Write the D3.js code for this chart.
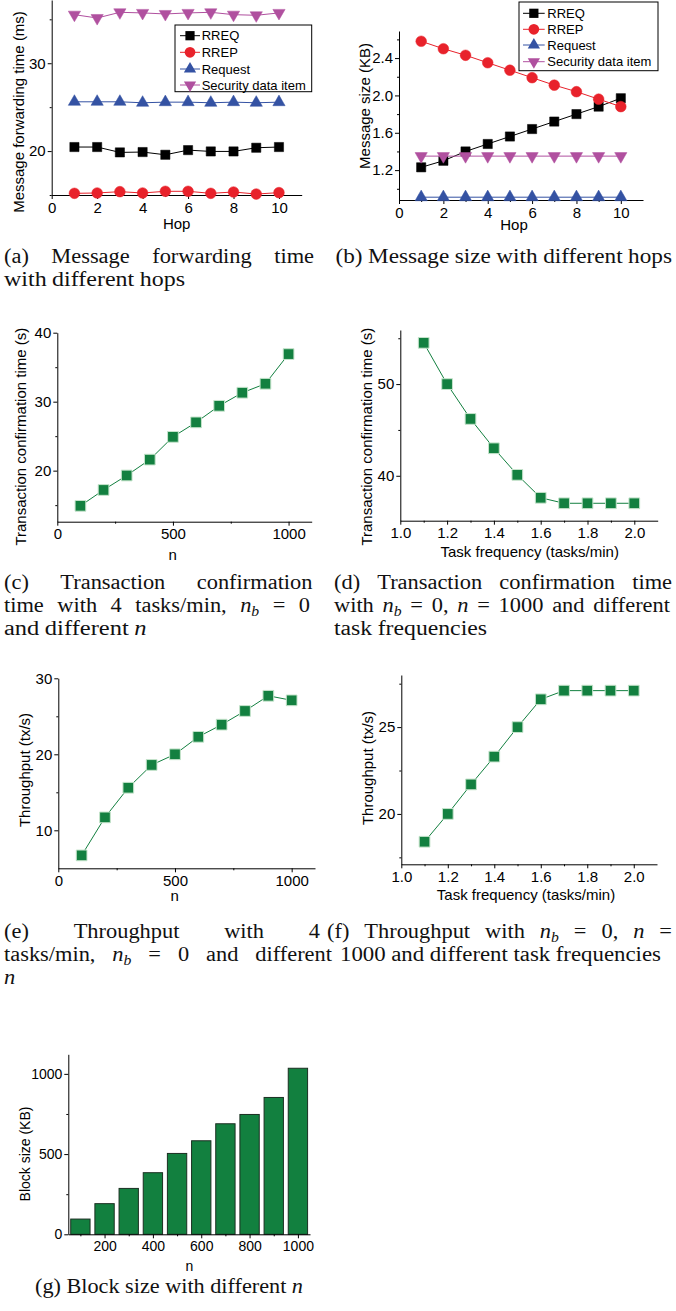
<!DOCTYPE html>
<html>
<head>
<meta charset="utf-8">
<script src="https://cdn.jsdelivr.net/npm/d3@7"></script>
<style>
  body { margin: 0; background: #fff; }
  svg { display: block; }
  .axis text { font-family: "Liberation Sans", Arial, sans-serif; font-size: 15px; fill: #000; }
  .axis path, .axis line { stroke: #000; stroke-width: 1; }
  .title { font-family: "Liberation Sans", Arial, sans-serif; font-size: 15px; fill: #000; }
  .legend text { font-family: "Liberation Sans", Arial, sans-serif; font-size: 13px; fill: #000; }
  .caption { font-family: "Liberation Serif", "Times New Roman", serif; font-size: 20px; fill: #111; }
</style>
</head>
<body>
<div id="chart"></div>
<script>
// ---- data ----
var hops = [1, 2, 3, 4, 5, 6, 7, 8, 9, 10];
var fwdRREQ     = [20.46, 20.46, 19.85, 19.89, 19.58, 20.11, 19.96, 19.96, 20.38, 20.46];
var fwdRREP     = [15.19, 15.23, 15.38, 15.23, 15.42, 15.42, 15.19, 15.34, 15.11, 15.27];
var fwdRequest  = [25.61, 25.61, 25.61, 25.50, 25.57, 25.57, 25.50, 25.57, 25.50, 25.57];
var fwdSecurity = [35.53, 35.15, 35.80, 35.73, 35.61, 35.73, 35.80, 35.53, 35.46, 35.73];

var sizeRREQ     = [1.23, 1.30, 1.40, 1.48, 1.56, 1.64, 1.72, 1.80, 1.88, 1.97];
var sizeRREP     = [2.58, 2.50, 2.43, 2.35, 2.27, 2.19, 2.11, 2.04, 1.96, 1.88];
var sizeRequest  = [0.91, 0.91, 0.91, 0.91, 0.91, 0.91, 0.91, 0.91, 0.91, 0.91];
var sizeSecurity = [1.35, 1.35, 1.35, 1.35, 1.35, 1.35, 1.35, 1.35, 1.35, 1.35];

var seriesNames = ["RREQ", "RREP", "Request", "Security data item"];

var nodeCounts = [100, 200, 300, 400, 500, 600, 700, 800, 900, 1000];
var taskFreqs = [1.1, 1.2, 1.3, 1.4, 1.5, 1.6, 1.7, 1.8, 1.9, 2.0];

var confirmByN    = [14.9, 17.2, 19.3, 21.6, 24.9, 27.0, 29.4, 31.3, 32.6, 36.9];
var confirmByFreq = [54.5, 50.0, 46.2, 43.0, 40.1, 37.6, 37.0, 37.0, 37.0, 37.0];
var throughputByN    = [6.7, 11.7, 15.6, 18.6, 20.0, 22.3, 23.9, 25.7, 27.7, 27.1];
var throughputByFreq = [18.4, 20.0, 21.7, 23.3, 25.0, 26.6, 27.1, 27.1, 27.1, 27.1];
var blockSize = [95, 191, 286, 384, 504, 583, 689, 747, 853, 1035];

// tick values
var hopTicks = [0, 2, 4, 6, 8, 10], hopMinor = [1, 3, 5, 7, 9];
var fwdTicks = [20, 30], fwdMinor = [15, 25, 35];
var sizeTicks = [1.2, 1.6, 2.0, 2.4], sizeMinor = [1.0, 1.4, 1.8, 2.2, 2.6];
var nTicks = [0, 500, 1000], nMinor = [250, 750];
var freqTicks = [1.0, 1.2, 1.4, 1.6, 1.8, 2.0], freqMinor = [1.1, 1.3, 1.5, 1.7, 1.9];
var confNTicks = [20, 30, 40], confNMinor = [15, 25, 35];
var confFTicks = [40, 50], confFMinor = [45, 55];
var thrNTicks = [10, 20, 30], thrNMinor = [15, 25];
var thrFTicks = [20, 25], thrFMinor = [17.5, 22.5, 27.5];
var blockXTicks = [200, 400, 600, 800, 1000], blockXMinor = [100, 300, 500, 700, 900];
var blockYTicks = [0, 500, 1000], blockYMinor = [250, 750];

// ---- styles ----
var colors = { RREQ: "#000000", RREP: "#e8222b", Request: "#3452a3", Security: "#b0509f", green: "#138040" };

var svg = d3.select("#chart").append("svg").attr("width", 676).attr("height", 1311);

function zip(xs, ys) { return xs.map(function(x, i) { return [x, ys[i]]; }); }

function frame(p) {
  var x = d3.scaleLinear().domain(p.xDomain).range(p.xRange);
  var y = d3.scaleLinear().domain(p.yDomain).range(p.yRange);
  var g = svg.append("g");
  var bottom = p.yRange[0], left = p.xRange[0];

  g.append("g").attr("class", "axis").attr("transform", "translate(0," + bottom + ")")
    .call(d3.axisBottom(x).tickValues(p.xTicks).tickSize(4).tickSizeOuter(0).tickPadding(3)
      .tickFormat(p.xFormat || d3.format("d")));
  g.append("g").attr("class", "axis").attr("transform", "translate(0," + bottom + ")")
    .call(d3.axisBottom(x).tickValues(p.xMinor).tickSize(2).tickSizeOuter(0).tickFormat(""))
    .select(".domain").remove();
  g.append("g").attr("class", "axis").attr("transform", "translate(" + left + ",0)")
    .call(d3.axisLeft(y).tickValues(p.yTicks).tickSize(4).tickSizeOuter(0).tickPadding(2)
      .tickFormat(p.yFormat || d3.format("d")));
  g.append("g").attr("class", "axis").attr("transform", "translate(" + left + ",0)")
    .call(d3.axisLeft(y).tickValues(p.yMinor).tickSize(2).tickSizeOuter(0).tickFormat(""))
    .select(".domain").remove();

  g.selectAll(".axis text").style("font-size", p.tickFont || "15px");

  g.append("text").attr("class", "title").attr("text-anchor", "middle")
    .attr("x", p.xTitle[0]).attr("y", p.xTitle[1]).attr("dy", "0.35em")
    .style("font-size", p.titleFont || "15px").text(p.xLabel);
  g.append("text").attr("class", "title").attr("text-anchor", "middle")
    .attr("transform", "translate(" + p.yTitle[0] + "," + p.yTitle[1] + ")rotate(-90)")
    .attr("dy", "0.35em").style("font-size", p.titleFont || "15px").text(p.yLabel);

  return { g: g, x: x, y: y };
}

function symbolPath(kind, size) {
  if (kind === "square") return d3.symbol().type(d3.symbolSquare).size(size)();
  if (kind === "circle") return d3.symbol().type(d3.symbolCircle).size(size)();
  return d3.symbol().type(d3.symbolTriangle).size(size)();
}

function series(f, pts, s) {
  var line = d3.line().x(function(d) { return f.x(d[0]); }).y(function(d) { return f.y(d[1]); });
  f.g.append("path").datum(pts).attr("d", line)
    .attr("fill", "none").attr("stroke", s.color).attr("stroke-width", 1);
  f.g.selectAll(null).data(pts).enter().append("path")
    .attr("d", symbolPath(s.shape, s.size))
    .attr("transform", function(d) {
      return "translate(" + f.x(d[0]) + "," + f.y(d[1]) + ")" + (s.down ? "rotate(180)" : "");
    })
    .attr("fill", s.color).attr("stroke", s.edge || s.color).attr("stroke-width", s.edge ? 1 : 0.5);
}

function legend(box, styles) {
  var g = svg.append("g").attr("class", "legend");
  g.append("rect").attr("x", box.x0).attr("y", box.y0)
    .attr("width", box.x1 - box.x0).attr("height", box.y1 - box.y0)
    .attr("fill", "#fff").attr("stroke", "#000").attr("stroke-width", 1);
  styles.forEach(function(s, i) {
    var yy = box.rows[i];
    g.append("line").attr("x1", box.lx0).attr("x2", box.lx1).attr("y1", yy).attr("y2", yy)
      .attr("stroke", s.color).attr("stroke-width", 1);
    g.append("path").attr("d", symbolPath(s.shape, s.size))
      .attr("transform", "translate(" + (box.lx0 + box.lx1) / 2 + "," + yy + ")" + (s.down ? "rotate(180)" : ""))
      .attr("fill", s.color);
    g.append("text").attr("x", box.tx).attr("y", yy).attr("dy", "0.35em").text(seriesNames[i]);
  });
}

var netStyles = [
  { color: colors.RREQ, shape: "square", size: 85 },
  { color: colors.RREP, shape: "circle", size: 90 },
  { color: colors.Request, shape: "triangle", size: 65 },
  { color: colors.Security, shape: "triangle", size: 65, down: true }
];
var greenStyle = { color: colors.green, shape: "square", size: 115, edge: "#c6e4cc" };

// (a) message forwarding time
var fa = frame({
  xDomain: [0, 11], xRange: [51.7, 301.7], yDomain: [15, 37.2], yRange: [195, 0],
  xTicks: hopTicks, xMinor: hopMinor, yTicks: fwdTicks, yMinor: fwdMinor,
  xLabel: "Hop", xTitle: [176.7, 224], yLabel: "Message forwarding time (ms)", yTitle: [19, 112]
});
[fwdRREQ, fwdRREP, fwdRequest, fwdSecurity].forEach(function(v, i) { series(fa, zip(hops, v), netStyles[i]); });
legend({ x0: 175, x1: 311.7, y0: 25, y1: 91.7, lx0: 180, lx1: 200, tx: 201.7, rows: [35.7, 52.3, 69, 85] }, netStyles);

// (b) message size
var fb = frame({
  xDomain: [0, 11], xRange: [399, 643], yDomain: [0.88, 2.69], yRange: [200, 31],
  xTicks: hopTicks, xMinor: hopMinor, yTicks: sizeTicks, yMinor: sizeMinor, yFormat: d3.format(".1f"),
  xLabel: "Hop", xTitle: [514, 225], yLabel: "Message size (KB)", yTitle: [364.5, 106]
});
[sizeRREQ, sizeRREP, sizeRequest, sizeSecurity].forEach(function(v, i) { series(fb, zip(hops, v), netStyles[i]); });
legend({ x0: 519, x1: 658, y0: 2, y1: 70.7, lx0: 523, lx1: 544.7, tx: 547.3, rows: [13.3, 29.3, 45, 61.7] }, netStyles);

// (c) confirmation time vs n
var fc = frame({
  xDomain: [0, 1100], xRange: [57.3, 311.7], yDomain: [12.6, 40], yRange: [521.7, 332.7],
  xTicks: nTicks, xMinor: nMinor, yTicks: confNTicks, yMinor: confNMinor,
  xLabel: "n", xTitle: [172.7, 555], yLabel: "Transaction confirmation time (s)", yTitle: [20.7, 436.7]
});
series(fc, zip(nodeCounts, confirmByN), greenStyle);

// (d) confirmation time vs task frequency
var fd = frame({
  xDomain: [1.0, 2.1], xRange: [400.3, 657.7], yDomain: [35.1, 55.9], yRange: [520.7, 330],
  xTicks: freqTicks, xMinor: freqMinor, xFormat: d3.format(".1f"), yTicks: confFTicks, yMinor: confFMinor,
  xLabel: "Task frequency (tasks/min)", xTitle: [529.7, 551.5], yLabel: "Transaction confirmation time (s)", yTitle: [366.3, 436.7]
});
series(fd, zip(taskFreqs, confirmByFreq), greenStyle);

// (e) throughput vs n
var fe = frame({
  xDomain: [0, 1100], xRange: [58.3, 315], yDomain: [5, 30], yRange: [868.3, 678.3],
  xTicks: nTicks, xMinor: nMinor, yTicks: thrNTicks, yMinor: thrNMinor,
  xLabel: "n", xTitle: [174.7, 896], yLabel: "Throughput (tx/s)", yTitle: [25, 770]
});
series(fe, zip(nodeCounts, throughputByN), greenStyle);

// (f) throughput vs task frequency
var ff = frame({
  xDomain: [1.0, 2.1], xRange: [401.3, 657], yDomain: [17.1, 28], yRange: [864.3, 675],
  xTicks: freqTicks, xMinor: freqMinor, xFormat: d3.format(".1f"), yTicks: thrFTicks, yMinor: thrFMinor,
  xLabel: "Task frequency (tasks/min)", xTitle: [526, 894.5], yLabel: "Throughput (tx/s)", yTitle: [368, 768]
});
series(ff, zip(taskFreqs, throughputByFreq), greenStyle);

// (g) block size bars
var fg = frame({
  xDomain: [50, 1050], xRange: [68.3, 310], yDomain: [0, 1122], yRange: [1234.3, 1054.3],
  xTicks: blockXTicks, xMinor: blockXMinor, yTicks: blockYTicks, yMinor: blockYMinor,
  xLabel: "n", xTitle: [189.3, 1266], yLabel: "Block size (KB)", yTitle: [25, 1154],
  tickFont: "14px", titleFont: "14px"
});
fg.g.selectAll(".bar").data(zip(nodeCounts, blockSize)).enter().insert("rect", ":first-child")
  .attr("class", "bar")
  .attr("x", function(d) { return fg.x(d[0] - 40); })
  .attr("width", function(d) { return fg.x(d[0] + 40) - fg.x(d[0] - 40); })
  .attr("y", function(d) { return fg.y(d[1]); })
  .attr("height", function(d) { return fg.y(0) - fg.y(d[1]); })
  .attr("fill", "#12803f").attr("stroke", "#1b2f22").attr("stroke-width", 1);

// ---- captions ----
// justified lines spread their word gaps; plain lines keep normal gaps and widen the glyphs
var N = [["n", "i"]], NB = [["n", "i"], ["b", "sub"]];
function W(s) { return [[s, ""]]; }
var captions = [
  { x0: 4, x1: 314, y: 263, just: true, words: [W("(a)"), W("Message"), W("forwarding"), W("time")] },
  { x0: 4, x1: 185, y: 286, words: [W("with"), W("different"), W("hops")] },
  { x0: 335.5, x1: 672, y: 263, words: [W("(b)"), W("Message"), W("size"), W("with"), W("different"), W("hops")] },

  { x0: 4, x1: 312.5, y: 589, just: true, words: [W("(c)"), W("Transaction"), W("confirmation")] },
  { x0: 4, x1: 310, y: 612, just: true, words: [W("time"), W("with"), W("4"), W("tasks/min,"), NB, W("="), W("0")] },
  { x0: 4, x1: 146.5, y: 635, words: [W("and"), W("different"), N] },
  { x0: 334, x1: 672, y: 589, just: true, words: [W("(d)"), W("Transaction"), W("confirmation"), W("time")] },
  { x0: 334, x1: 670, y: 612, just: true, words: [W("with"), NB, W("="), W("0,"), N, W("="), W("1000"), W("and"), W("different")] },
  { x0: 334, x1: 487, y: 635, words: [W("task"), W("frequencies")] },

  { x0: 4, x1: 320, y: 938, just: true, words: [W("(e)"), W("Throughput"), W("with"), W("4")] },
  { x0: 4, x1: 332, y: 961, just: true, words: [W("tasks/min,"), NB, W("="), W("0"), W("and"), W("different")] },
  { x0: 4, x1: 14, y: 984, words: [N] },
  { x0: 327, x1: 672, y: 938, just: true, words: [W("(f)"), W("Throughput"), W("with"), NB, W("="), W("0,"), N, W("=")] },
  { x0: 340, x1: 661, y: 961, words: [W("1000"), W("and"), W("different"), W("task"), W("frequencies")] },

  { x0: 35, x1: 303, y: 1293, words: [W("(g)"), W("Block"), W("size"), W("with"), W("different"), N] }
];

var baseStretch = 1.12, space = 5.5;
captions.forEach(function(line) {
  var texts = line.words.map(function(word) {
    var t = svg.append("text").attr("class", "caption").attr("y", line.y);
    word.forEach(function(piece) {
      var ts = t.append("tspan").text(piece[0]);
      if (piece[1] === "i") ts.attr("font-style", "italic");
      if (piece[1] === "sub") ts.attr("font-style", "italic").attr("font-size", "14px").attr("dy", 4);
    });
    return { t: t, w: t.node().getComputedTextLength() };
  });
  var natural = d3.sum(texts, function(d) { return d.w; });
  var k = texts.length - 1;
  var stretch = baseStretch, gap = 0;
  if (k > 0 && line.just) {
    gap = (line.x1 - line.x0 - natural * stretch) / k;
  } else if (k > 0) {
    gap = space;
    stretch = (line.x1 - line.x0 - k * space) / natural;
  }
  var cx = line.x0;
  texts.forEach(function(d) {
    var w = d.w * stretch;
    d.t.attr("x", cx).attr("textLength", w).attr("lengthAdjust", "spacingAndGlyphs");
    cx += w + gap;
  });
});
</script>
</body>
</html>
